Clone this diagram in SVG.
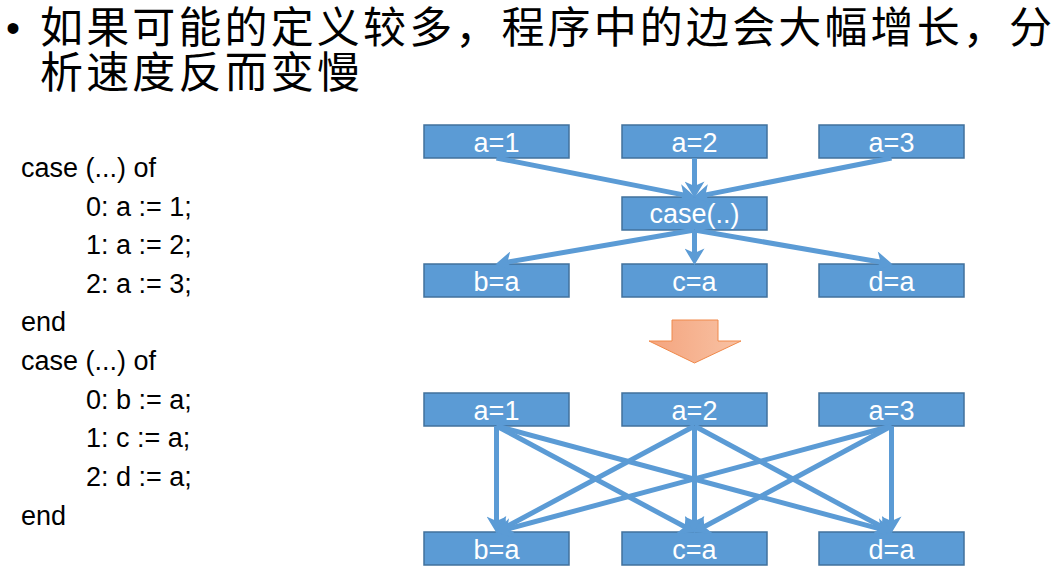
<svg xmlns="http://www.w3.org/2000/svg" width="1063" height="575" viewBox="0 0 1063 575">
<style>
.box{fill:#5B9BD5;stroke:#41719C;stroke-width:1.5}
.lbl{font-family:"Liberation Sans",Arial,sans-serif;font-size:27px;fill:#FFFFFF;text-anchor:middle}
.code{font-family:"Liberation Sans",Arial,sans-serif;font-size:27px;fill:#000000}
.title{font-family:"Noto Sans CJK SC","Noto Sans",sans-serif;font-size:43px;fill:#000000}
.edge{stroke:#5B9BD5;stroke-width:5;fill:none;marker-end:url(#ah)}
</style>
<defs>
<marker id="ah" markerUnits="userSpaceOnUse" markerWidth="20" markerHeight="20" viewBox="0 0 16 18" refX="5" refY="9" orient="auto">
<path d="M0,0 L15,9 L0,18 L4,9 z" fill="#5B9BD5"/>
</marker>
<linearGradient id="og" x1="0" y1="0" x2="1" y2="0">
<stop offset="0" stop-color="#F4A47E"/>
<stop offset="1" stop-color="#F8C2A4"/>
</linearGradient>
</defs>
<rect width="1063" height="575" fill="#FFFFFF"/>
<g id="title">
<text x="6" y="42" font-family="Liberation Sans,Arial,sans-serif" font-size="40">•</text>
<text class="title" x="40" y="43" textLength="1012" lengthAdjust="spacing">如果可能的定义较多，程序中的边会大幅增长，分</text>
<text class="title" x="40" y="88" textLength="320" lengthAdjust="spacing">析速度反而变慢</text>
</g>
<g id="code">
<text class="code" x="21" y="177">case (...) of</text>
<text class="code" x="86" y="216">0: a := 1;</text>
<text class="code" x="86" y="254">1: a := 2;</text>
<text class="code" x="86" y="293">2: a := 3;</text>
<text class="code" x="21" y="331">end</text>
<text class="code" x="21" y="370">case (...) of</text>
<text class="code" x="86" y="409">0: b := a;</text>
<text class="code" x="86" y="447">1: c := a;</text>
<text class="code" x="86" y="486">2: d := a;</text>
<text class="code" x="21" y="525">end</text>
</g>
<g id="t_a1"><rect class="box" x="424" y="125" width="145" height="33"/><text class="lbl" x="496.5" y="152">a=1</text></g>
<g id="t_a2"><rect class="box" x="622" y="125" width="145" height="33"/><text class="lbl" x="694.5" y="152">a=2</text></g>
<g id="t_a3"><rect class="box" x="819" y="125" width="145" height="33"/><text class="lbl" x="891.5" y="152">a=3</text></g>
<g id="t_case"><rect class="box" x="622" y="197" width="145" height="33"/><text class="lbl" x="694.5" y="223">case(..)</text></g>
<g id="t_b"><rect class="box" x="424" y="264" width="145" height="33"/><text class="lbl" x="496.5" y="291">b=a</text></g>
<g id="t_c"><rect class="box" x="622" y="264" width="145" height="33"/><text class="lbl" x="694.5" y="291">c=a</text></g>
<g id="t_d"><rect class="box" x="819" y="264" width="145" height="33"/><text class="lbl" x="891.5" y="291">d=a</text></g>
<g id="transform_arrow">
<polygon points="672,320 718,320 718,341 741,341 694.5,363 649,341 672,341" fill="url(#og)" stroke="#F0894A" stroke-width="1"/>
</g>
<g id="b_a1"><rect class="box" x="424" y="393" width="145" height="33"/><text class="lbl" x="496.5" y="420">a=1</text></g>
<g id="b_a2"><rect class="box" x="622" y="393" width="145" height="33"/><text class="lbl" x="694.5" y="420">a=2</text></g>
<g id="b_a3"><rect class="box" x="819" y="393" width="145" height="33"/><text class="lbl" x="891.5" y="420">a=3</text></g>
<g id="b_b"><rect class="box" x="424" y="532" width="145" height="33"/><text class="lbl" x="496.5" y="559">b=a</text></g>
<g id="b_c"><rect class="box" x="622" y="532" width="145" height="33"/><text class="lbl" x="694.5" y="559">c=a</text></g>
<g id="b_d"><rect class="box" x="819" y="532" width="145" height="33"/><text class="lbl" x="891.5" y="559">d=a</text></g>
<g id="connectors">
<line class="edge" x1="496.5" y1="158" x2="684.7" y2="195.1"/>
<line class="edge" x1="694.5" y1="158" x2="694.5" y2="187"/>
<line class="edge" x1="891.5" y1="158" x2="704.3" y2="195.1"/>
<line class="edge" x1="694.5" y1="230" x2="506.4" y2="262.3"/>
<line class="edge" x1="694.5" y1="230" x2="694.5" y2="254"/>
<line class="edge" x1="694.5" y1="230" x2="881.6" y2="262.3"/>
<line class="edge" x1="496.5" y1="426" x2="496.5" y2="522"/>
<line class="edge" x1="496.5" y1="426" x2="685.7" y2="527.3"/>
<line class="edge" x1="496.5" y1="426" x2="881.8" y2="529.4"/>
<line class="edge" x1="694.5" y1="426" x2="505.3" y2="527.3"/>
<line class="edge" x1="694.5" y1="426" x2="694.5" y2="522"/>
<line class="edge" x1="694.5" y1="426" x2="882.7" y2="527.3"/>
<line class="edge" x1="891.5" y1="426" x2="506.2" y2="529.4"/>
<line class="edge" x1="891.5" y1="426" x2="703.3" y2="527.3"/>
<line class="edge" x1="891.5" y1="426" x2="891.5" y2="522"/>
</g>
</svg>
